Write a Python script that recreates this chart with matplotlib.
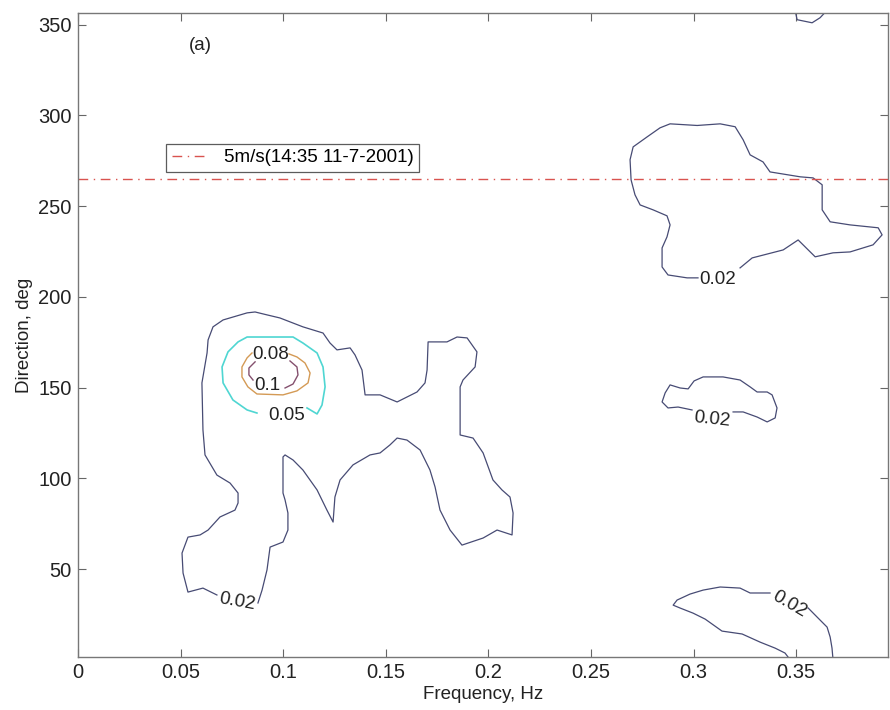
import matplotlib.pyplot as plt
import numpy as np

plt.rcParams['font.family'] = ['Liberation Sans', 'DejaVu Sans']

# Contour lines (frequency Hz, direction deg)
# level 0.02 - large blob on the left (one label gap near the bottom)
c002_left = np.array([
    (0.0877, 31.3), (0.0897, 38.4), (0.0921, 49.5), (0.0936, 62.1), (0.0999, 64.9),
    (0.1023, 71.5), (0.1023, 80.9), (0.1009, 88.1), (0.0999, 91.9), (0.0999, 111.8),
    (0.1009, 112.9), (0.1048, 110.1), (0.1096, 104.6), (0.1165, 93.6), (0.1213, 82.5),
    (0.1243, 75.9), (0.1252, 89.7), (0.1277, 99.1), (0.1340, 107.4), (0.1423, 112.9),
    (0.1472, 114.0), (0.1520, 118.4), (0.1555, 122.2), (0.1603, 121.1), (0.1667, 115.6),
    (0.1715, 104.6), (0.1740, 95.2), (0.1764, 82.5), (0.1813, 71.5), (0.1871, 63.2),
    (0.1974, 67.1), (0.2042, 71.5), (0.2115, 68.8), (0.2120, 80.9), (0.2105, 89.7),
    (0.2066, 93.6), (0.2022, 99.1), (0.1974, 114.0), (0.1925, 122.2), (0.1862, 123.9),
    (0.1862, 150.4), (0.1876, 154.2), (0.1935, 161.4), (0.1944, 169.7), (0.1896, 177.4),
    (0.1847, 177.9), (0.1798, 175.2), (0.1706, 175.2), (0.1701, 159.7), (0.1691, 152.6),
    (0.1652, 147.6), (0.1555, 142.1), (0.1472, 146.0), (0.1399, 146.0), (0.1384, 159.7),
    (0.1350, 168.0), (0.1326, 171.9), (0.1262, 170.8), (0.1228, 174.6), (0.1194, 180.1),
    (0.1096, 183.5), (0.0984, 188.4), (0.0921, 190.1), (0.0863, 191.7), (0.0824, 191.2),
    (0.0707, 187.3), (0.0658, 183.5), (0.0634, 176.3), (0.0629, 169.1), (0.0604, 152.6),
    (0.0609, 126.7), (0.0619, 112.9), (0.0677, 101.8), (0.0741, 97.4), (0.0780, 91.9),
    (0.0780, 86.4), (0.0765, 82.5), (0.0692, 78.7), (0.0634, 71.5), (0.0595, 68.8),
    (0.0536, 67.6), (0.0507, 58.8), (0.0512, 47.8), (0.0536, 37.3), (0.0609, 39.5),
    (0.0677, 35.7),
])

# level 0.05 (cyan)
c005 = np.array([
    (0.1116, 138.8), (0.1165, 135.5), (0.1189, 140.4), (0.1204, 150.4), (0.1194, 161.4),
    (0.1165, 169.1), (0.1096, 174.6), (0.1048, 177.9), (0.0824, 177.9), (0.0780, 175.2),
    (0.0731, 169.7), (0.0702, 161.4), (0.0707, 152.6), (0.0755, 143.2), (0.0824, 137.7),
    (0.0872, 136.0),
])

# level 0.08 (orange)
c008 = np.array([
    (0.1028, 168.6), (0.1067, 166.9), (0.1106, 163.6), (0.1131, 158.1), (0.1121, 152.6),
    (0.1067, 148.2), (0.0999, 146.0), (0.0872, 146.5), (0.0828, 150.4), (0.0799, 155.9),
    (0.0799, 161.4), (0.0824, 166.4), (0.0848, 169.1),
])

# level 0.1 (two pieces around its label)
c010_left = np.array([(0.0863, 164.2), (0.0833, 160.8), (0.0833, 157.0), (0.0853, 154.2)])
c010_right = np.array([(0.1009, 149.8), (0.1048, 152.0), (0.1072, 157.0), (0.1067, 161.4),
                       (0.1033, 164.7)])

# level 0.02 - upper right blob
c002_upper = np.array([
    (0.3226, 216.0), (0.3285, 221.5), (0.3436, 225.9), (0.3509, 231.4), (0.3592, 222.1),
    (0.3679, 224.3), (0.3762, 224.8), (0.3874, 228.7), (0.3918, 234.2), (0.3899, 238.1),
    (0.3762, 239.7), (0.3665, 241.4), (0.3626, 248.0), (0.3626, 261.8), (0.3582, 265.6),
    (0.3519, 266.2), (0.3372, 268.9), (0.3338, 274.4), (0.3275, 278.3), (0.3241, 286.6),
    (0.3202, 293.8), (0.3129, 295.4), (0.3017, 294.5), (0.2885, 295.4), (0.2836, 293.2),
    (0.2773, 288.2), (0.2705, 282.7), (0.2690, 275.6), (0.2695, 264.5), (0.2714, 256.3),
    (0.2739, 250.7), (0.2802, 248.0), (0.2870, 244.7), (0.2885, 239.7), (0.2870, 233.1),
    (0.2846, 227.0), (0.2846, 216.5), (0.2875, 212.1), (0.2968, 210.5), (0.3021, 210.5),
])

# level 0.02 - small piece at the top edge
c002_top = np.array([(0.3494, 358.0), (0.3504, 352.8), (0.3577, 351.1), (0.3616, 353.9),
                     (0.3650, 358.0)])

# level 0.02 - middle right blob
c002_mid = np.array([
    (0.3192, 136.6), (0.3241, 136.6), (0.3309, 133.8), (0.3358, 131.1), (0.3397, 133.3),
    (0.3406, 138.8), (0.3382, 146.0), (0.3358, 147.6), (0.3309, 147.6), (0.3275, 150.4),
    (0.3226, 154.2), (0.3143, 155.9), (0.3046, 155.9), (0.3002, 153.7), (0.2973, 149.3),
    (0.2934, 149.8), (0.2885, 151.5), (0.2861, 147.1), (0.2846, 142.1), (0.2875, 138.8),
    (0.2924, 139.3), (0.2992, 137.7),
])

# level 0.02 - lower right blob (split by the label)
c002_low_a = np.array([
    (0.3372, 36.8), (0.3275, 36.8), (0.3226, 39.5), (0.3129, 40.1), (0.3046, 38.4),
    (0.2982, 36.2), (0.2919, 32.9), (0.2900, 30.1), (0.2934, 28.5), (0.2997, 25.7),
    (0.3056, 22.4), (0.3138, 15.8), (0.3236, 14.2), (0.3324, 9.7), (0.3397, 6.4),
    (0.3445, 3.7), (0.3470, 0.0),
])
c002_low_b = np.array([(0.3558, 28.5), (0.3606, 23.0), (0.3650, 18.0), (0.3665, 12.5),
                       (0.3674, 6.4), (0.3679, 0.0)])

# contour labels: text, freq, dir, rotation
labels_text = ['0.02', '0.05', '0.08', '0.1', '0.02', '0.02', '0.02']
labels_freq = [0.0775, 0.1019, 0.0941, 0.0921, 0.3119, 0.3090, 0.3465]
labels_dir = [31.8, 134.9, 168.0, 150.9, 209.4, 132.2, 30.7]
labels_rot = [-10, 0, 0, 0, 0, -6, -30]

wind_dir = 265
wind_label = '5m/s(14:35 11-7-2001)'

col_002 = '#474b74'
col_005 = '#4fd6d2'
col_008 = '#d49a55'
col_010 = '#84506e'

fig = plt.figure(figsize=(8.9, 7.1), dpi=100)
ax = fig.add_axes([0.0876, 0.0746, 0.9102, 0.9071])

for seg in [c002_left, c002_upper, c002_top, c002_mid, c002_low_a, c002_low_b]:
    ax.plot(seg[:, 0], seg[:, 1], color=col_002, lw=0.9)
ax.plot(c005[:, 0], c005[:, 1], color=col_005, lw=1.2)
ax.plot(c008[:, 0], c008[:, 1], color=col_008, lw=1.0)
for seg in [c010_left, c010_right]:
    ax.plot(seg[:, 0], seg[:, 1], color=col_010, lw=1.0)

for t, f, d, r in zip(labels_text, labels_freq, labels_dir, labels_rot):
    ax.text(f, d, t, ha='center', va='center', rotation=r, fontsize=13.5, color='#222222')

ax.axhline(wind_dir, color='#d9534f', lw=1.0, ls=(0, (7, 4, 1, 4)), label=wind_label)

ax.set_xlim(0, 0.3947)
ax.set_ylim(1.5, 356.5)
ax.set_xticks([0, 0.05, 0.1, 0.15, 0.2, 0.25, 0.3, 0.35])
ax.set_xticklabels(['0', '0.05', '0.1', '0.15', '0.2', '0.25', '0.3', '0.35'])
ax.set_yticks([50, 100, 150, 200, 250, 300, 350])

ax.tick_params(direction='in', top=True, right=True, length=6, width=0.8,
               color='#666666', labelsize=14.5, labelcolor='#222222', pad=4.5)
for s in ax.spines.values():
    s.set_color('#777777')
    s.set_linewidth(1.0)

ax.set_xlabel('Frequency, Hz', fontsize=13.5, color='#222222', labelpad=3)
ax.set_ylabel('Direction, deg', fontsize=13.5, color='#222222', labelpad=4)

ax.text(0.151, 0.949, '(a)', transform=ax.transAxes, fontsize=13.5,
        ha='center', va='center', color='#222222')

leg = ax.legend(loc='upper left', bbox_to_anchor=(0.1086, 0.797), fontsize=13.5,
                frameon=True, fancybox=False, handlelength=2.0, borderpad=0.3,
                borderaxespad=0)
leg.get_frame().set_edgecolor('#333333')
leg.get_frame().set_linewidth(0.9)

fig.savefig('out.png', dpi=100)
